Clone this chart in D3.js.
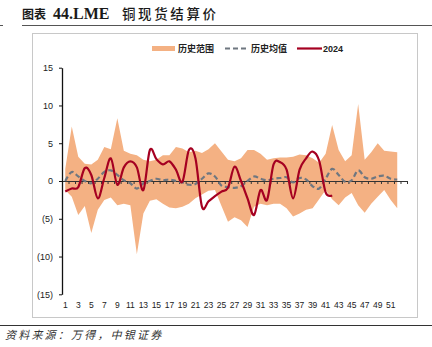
<!DOCTYPE html>
<html>
<head>
<meta charset="utf-8">
<script src="https://cdn.jsdelivr.net/npm/d3@7"></script>
<style>
  html, body { margin: 0; padding: 0; background: #ffffff; }
  svg { display: block; }
</style>
</head>
<body>
<svg id="chart" width="432" height="347"></svg>
<script>
// Week numbers on the category axis
const weeks = d3.range(1, 53);
const axisWeeks = d3.range(1, 54);
const weekLabels = d3.range(1, 52, 2);

// Historical range (upper / lower bound), historical mean, and 2024 values
const rangeUpper = [1.6, 7.2, 3.2, 2.3, 2.2, 2.8, 4.5, 4.2, 8.3, 4.0,
                    3.6, 3.4, 2.8, 2.6, 2.8, 3.4, 3.4, 4.5, 4.3, 3.8,
                    4.0, 3.7, 4.2, 5.0, 3.9, 2.8, 2.6, 3.0, 4.1, 4.1,
                    3.6, 2.8, 3.0, 3.1, 3.1, 3.2, 3.5, 3.4, 3.0, 2.4,
                    3.6, 7.4, 4.1, 2.6, 3.4, 10.2, 2.8, 3.8, 5.0, 4.0,
                    3.9, 3.8];
const rangeLower = [-1.2, -2.1, -4.5, -3.3, -6.9, -3.8, -2.5, -2.2, -3.2, -3.0,
                    -3.2, -9.7, -4.3, -2.6, -2.4, -3.0, -3.5, -3.6, -3.4, -3.0,
                    -2.3, -1.8, -1.3, -1.2, -3.3, -5.4, -4.8, -5.2, -6.1, -3.4,
                    -3.0, -3.2, -3.0, -3.0, -3.6, -4.7, -4.3, -3.8, -3.6, -2.4,
                    -1.2, -2.4, -3.2, -2.2, -1.6, -3.2, -4.2, -3.0, -2.1, -1.2,
                    -2.5, -3.6];
const histMean = [0.0, 1.2, 0.6, 0.0, -0.3, 0.3, 1.2, 1.4, 0.8, 0.1,
                  -0.3, -1.0, -0.3, 0.0, 0.3, 0.1, 0.2, 0.0, -0.2, -0.5,
                  -0.4, 0.3, 1.0, 0.6, -0.6, -0.8, -0.9, -0.7, 0.0, 0.6,
                  0.3, 0.1, 0.3, 0.4, 0.5, -0.2, 0.4, 0.2, -0.7, -1.0,
                  0.3, 1.6, 0.8, -0.1, 0.1, 1.4, 0.5, 0.3, 0.6, 0.7,
                  0.3, 0.2];
const series2024 = [-1.4, -1.0, -0.8, 1.7, 0.8, -2.3, 0.4, 3.0, -0.5, 1.8,
                    2.6, 1.8, -1.2, 4.1, 2.9, 2.2, 2.6, 1.5, -0.1, 4.1,
                    3.0, -3.4, -2.7, -2.0, -1.4, -0.9, 1.9, 0.0, -2.3, -4.5,
                    -1.2, -2.5, 2.2, 2.5, 1.5, -2.3, 1.5, 3.0, 3.9, 2.7,
                    -1.5, -1.9];

const yTicks = [-15, -10, -5, 0, 5, 10, 15];

const svg = d3.select("#chart");
const FONT = "'Liberation Sans', Arial, sans-serif";
const CJK = "'Noto Sans CJK SC', sans-serif";

// Title block
const title = svg.append("text")
  .attr("y", 19)
  .attr("font-weight", "bold")
  .attr("fill", "#1a1a1a");
title.append("tspan").attr("x", 22)
  .attr("font-family", CJK).attr("font-size", 12)
  .text("图表");
title.append("tspan").attr("x", 53)
  .attr("font-family", "'Liberation Serif', serif").attr("font-size", 16)
  .text("44.LME");
title.append("tspan").attr("x", 122)
  .attr("font-family", CJK).attr("font-size", 13.5).attr("font-weight", 500)
  .attr("letter-spacing", 2.6)
  .text("铜现货结算价");

svg.append("line").attr("x1", 0).attr("x2", 3).attr("y1", 25.5).attr("y2", 25.5)
  .attr("stroke", "#555").attr("stroke-width", 1);
svg.append("line").attr("x1", 22).attr("x2", 432).attr("y1", 25.5).attr("y2", 25.5)
  .attr("stroke", "#555").attr("stroke-width", 1.2);

// Chart frame
svg.append("rect")
  .attr("x", 32.5).attr("y", 33.5).attr("width", 385).attr("height", 284)
  .attr("fill", "none").attr("stroke", "#c8c8c8").attr("stroke-width", 1);

// Scales
const x = d3.scaleLinear().domain([0.5, 53.5]).range([62, 407]);
const y = d3.scaleLinear().domain([-15, 15]).range([294.3, 67.7]);

// Historical range band
const bandData = weeks.map((w, i) => ({ w, lo: rangeLower[i], hi: rangeUpper[i] }));
svg.append("path")
  .datum(bandData)
  .attr("fill", "#f4b183")
  .attr("d", d3.area().x(d => x(d.w)).y0(d => y(d.lo)).y1(d => y(d.hi)));

// Zero line with category tick marks
const xAxisG = svg.append("g").attr("transform", `translate(0,${y(0)})`)
  .call(d3.axisBottom(x)
    .tickValues(axisWeeks.map(w => w + 0.5).concat([0.5]))
    .tickFormat("")
    .tickSize(3)
    .tickSizeOuter(0));
xAxisG.selectAll("path, line").attr("stroke", "#333").attr("stroke-width", 1);

// Historical mean (dashed)
svg.append("path")
  .datum(histMean)
  .attr("fill", "none")
  .attr("stroke", "#6f7780")
  .attr("stroke-width", 2.2)
  .attr("stroke-dasharray", "5,3")
  .attr("d", d3.line().x((d, i) => x(weeks[i])).y(d => y(d)).curve(d3.curveCatmullRom.alpha(0)));

// 2024 series
svg.append("path")
  .datum(series2024)
  .attr("fill", "none")
  .attr("stroke", "#a50021")
  .attr("stroke-width", 2.2)
  .attr("stroke-linejoin", "round")
  .attr("d", d3.line().x((d, i) => x(weeks[i])).y(d => y(d)).curve(d3.curveCatmullRom.alpha(0)));

// Y axis
const fmt = v => v < 0 ? `(${Math.abs(v)})` : `${v}`;
const yAxisG = svg.append("g").attr("transform", "translate(62,0)")
  .call(d3.axisLeft(y).tickValues(yTicks).tickFormat(fmt).tickSize(3).tickSizeOuter(0));
yAxisG.select(".domain").attr("stroke", "#111").attr("stroke-width", 1.3);
yAxisG.selectAll(".tick line").attr("stroke", "#111").attr("stroke-width", 1);
yAxisG.selectAll(".tick text")
  .attr("x", -9)
  .attr("font-family", FONT).attr("font-size", 9).attr("fill", "#222");

// Category labels along the bottom of the plot
const labelG = svg.append("g").attr("transform", "translate(0,305)");
labelG.selectAll("text").data(weekLabels).join("text")
  .attr("x", d => x(d))
  .attr("text-anchor", "middle")
  .attr("dy", "0.35em")
  .attr("font-family", FONT).attr("font-size", 8.5).attr("fill", "#222")
  .text(d => d);

// Legend
const lg = svg.append("g");
lg.append("line").attr("x1", 152).attr("x2", 175).attr("y1", 48.5).attr("y2", 48.5)
  .attr("stroke", "#f4b183").attr("stroke-width", 5);
lg.append("text").attr("x", 178).attr("y", 52).attr("font-family", CJK)
  .attr("font-weight", "bold").attr("font-size", 9).attr("fill", "#222").text("历史范围");
lg.append("line").attr("x1", 225).attr("x2", 247).attr("y1", 48.5).attr("y2", 48.5)
  .attr("stroke", "#6f7780").attr("stroke-width", 2.2).attr("stroke-dasharray", "5,3");
lg.append("text").attr("x", 251).attr("y", 52).attr("font-family", CJK)
  .attr("font-weight", "bold").attr("font-size", 9).attr("fill", "#222").text("历史均值");
lg.append("line").attr("x1", 297).attr("x2", 322).attr("y1", 48.5).attr("y2", 48.5)
  .attr("stroke", "#a50021").attr("stroke-width", 2.2);
lg.append("text").attr("x", 323).attr("y", 52).attr("font-family", FONT)
  .attr("font-weight", "bold").attr("font-size", 9).attr("fill", "#222").text("2024");

// Footer
svg.append("line").attr("x1", 0).attr("x2", 432).attr("y1", 325.5).attr("y2", 325.5)
  .attr("stroke", "#333").attr("stroke-width", 1.2);
svg.append("text")
  .attr("x", 5).attr("y", 339)
  .attr("font-family", CJK).attr("font-style", "italic")
  .attr("font-size", 11).attr("letter-spacing", 2.2).attr("fill", "#333")
  .text("资料来源：万得，中银证券");
</script>
</body>
</html>
